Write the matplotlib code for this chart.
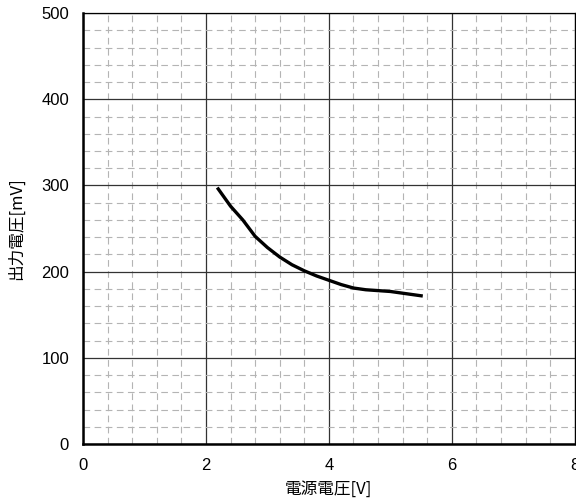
import matplotlib
matplotlib.use('Agg')
import matplotlib.pyplot as plt
from matplotlib.ticker import MultipleLocator

plt.rcParams['font.family'] = ['Noto Sans CJK JP', 'DejaVu Sans']

# supply voltage [V] vs output voltage [mV]
vin = [2.2, 2.4, 2.6, 2.8, 3.0, 3.2, 3.4, 3.6, 3.8, 4.0, 4.2, 4.4, 4.6, 4.8, 5.0, 5.2, 5.5]
vout = [296, 276, 260, 241, 228, 217, 208, 201, 195, 190, 185, 181, 179, 178, 177, 175, 172]

fig = plt.figure(figsize=(5.76, 5.04), dpi=100)
ax = fig.add_axes([0.144, 0.119, 0.854, 0.855])

ax.plot(vin, vout, color='black', lw=2.4, zorder=3)

ax.set_xlim(0, 8)
ax.set_ylim(0, 500)
ax.xaxis.set_major_locator(MultipleLocator(2))
ax.xaxis.set_minor_locator(MultipleLocator(0.4))
ax.yaxis.set_major_locator(MultipleLocator(100))
ax.yaxis.set_minor_locator(MultipleLocator(20))

ax.grid(which='minor', color='#b4b4b4', lw=0.8, ls=(0, (6, 4)))
ax.grid(which='major', color='#333333', lw=0.9, ls='-')
ax.tick_params(which='both', length=0)
ax.tick_params(labelsize=12, pad=10)
for lbl in ax.get_xticklabels() + ax.get_yticklabels():
    lbl.set_family(['Liberation Sans', 'DejaVu Sans'])

for s in ['left', 'bottom']:
    ax.spines[s].set_linewidth(1.8)
for s in ['top', 'right']:
    ax.spines[s].set_linewidth(0.9)

ax.set_xlabel('電源電圧[V]', fontsize=12)
ax.xaxis.set_label_coords(0.5, -0.085)
ax.set_ylabel('出力電圧[mV]', fontsize=12)
ax.yaxis.set_label_coords(-0.118, 0.5)

fig.savefig('out.png', dpi=100)
